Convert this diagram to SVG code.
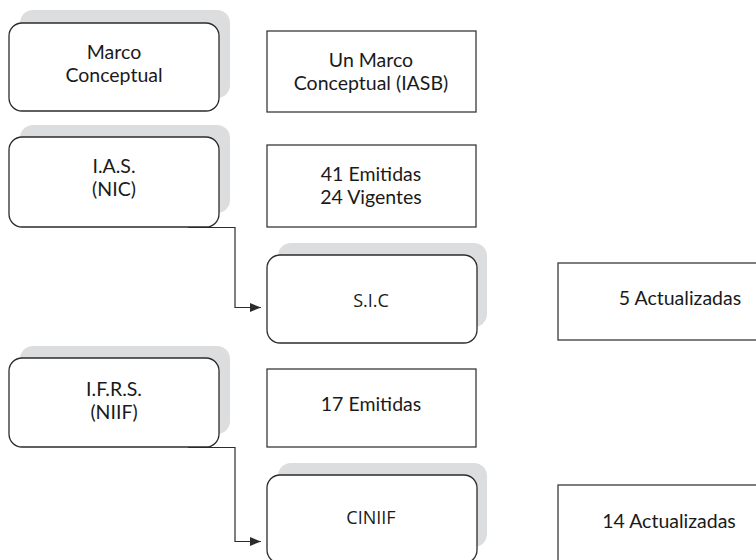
<svg xmlns="http://www.w3.org/2000/svg" width="756" height="560" viewBox="0 0 756 560">
<defs>
<style>
.sh{fill:#dcdddf;stroke:none}
.rb{fill:#fff;stroke:#2b2b2b;stroke-width:1.3}
.bx{fill:#fff;stroke:#3a3a3a;stroke-width:1.3}
.t{font-family:Lato,"Liberation Sans",sans-serif;font-size:19.5px;fill:#1a1a1a;text-anchor:middle}
.t2{font-family:"Open Sans","Liberation Sans",sans-serif;font-size:18px;fill:#1a1a1a;text-anchor:middle}
.cn{fill:none;stroke:#2b2b2b;stroke-width:1.2}
</style>
<marker id="ar" viewBox="0 0 10 10" refX="10" refY="5" markerWidth="11" markerHeight="11" markerUnits="userSpaceOnUse" orient="auto">
<path d="M0,1 L10,5 L0,9 Z" fill="#2b2b2b"/>
</marker>
</defs>
<rect width="756" height="560" fill="#fff"/>
<g id="connectors">
<path class="cn" d="M188,227.5 H235 V307.5 H261" marker-end="url(#ar)"/>
<path class="cn" d="M188,447.5 H235 V541.5 H261" marker-end="url(#ar)"/>
</g>
<g id="marco">
<rect class="sh" x="20" y="10" width="210" height="88" rx="13"/>
<rect class="rb" x="9" y="23" width="210" height="88" rx="13"/>
<text class="t" x="114" y="59">Marco</text>
<text class="t" x="114" y="82">Conceptual</text>
</g>
<g id="unmarco">
<rect class="bx" x="267" y="31" width="209" height="81"/>
<text class="t" x="371" y="67">Un Marco</text>
<text class="t" x="371" y="90">Conceptual (IASB)</text>
</g>
<g id="ias">
<rect class="sh" x="20" y="125" width="210" height="88" rx="13"/>
<rect class="rb" x="9" y="137" width="210" height="90" rx="13"/>
<text class="t" x="114" y="173">I.A.S.</text>
<text class="t" x="114" y="196">(NIC)</text>
</g>
<g id="emitidas41">
<rect class="bx" x="267" y="145" width="209" height="82"/>
<text class="t" x="371" y="181">41 Emitidas</text>
<text class="t" x="371" y="204">24 Vigentes</text>
</g>
<g id="sic">
<rect class="sh" x="278" y="243" width="209" height="84" rx="13"/>
<rect class="rb" x="267" y="255" width="210" height="88" rx="13"/>
<text class="t2" x="371" y="307">S.I.C</text>
</g>
<g id="act5">
<rect class="bx" x="558" y="263" width="220" height="77"/>
<text class="t" x="680" y="305">5 Actualizadas</text>
</g>
<g id="ifrs">
<rect class="sh" x="20" y="346" width="210" height="88" rx="13"/>
<rect class="rb" x="9" y="358" width="210" height="89" rx="13"/>
<text class="t" x="114" y="396">I.F.R.S.</text>
<text class="t" x="114" y="419">(NIIF)</text>
</g>
<g id="emitidas17">
<rect class="bx" x="267" y="369" width="209" height="78"/>
<text class="t" x="371" y="411">17 Emitidas</text>
</g>
<g id="ciniif">
<rect class="sh" x="278" y="463" width="209" height="84" rx="13"/>
<rect class="rb" x="267" y="475" width="210" height="88" rx="13"/>
<text class="t2" x="371" y="524">CINIIF</text>
</g>
<g id="act14">
<rect class="bx" x="558" y="485" width="220" height="90"/>
<text class="t" x="669" y="528">14 Actualizadas</text>
</g>
</svg>
